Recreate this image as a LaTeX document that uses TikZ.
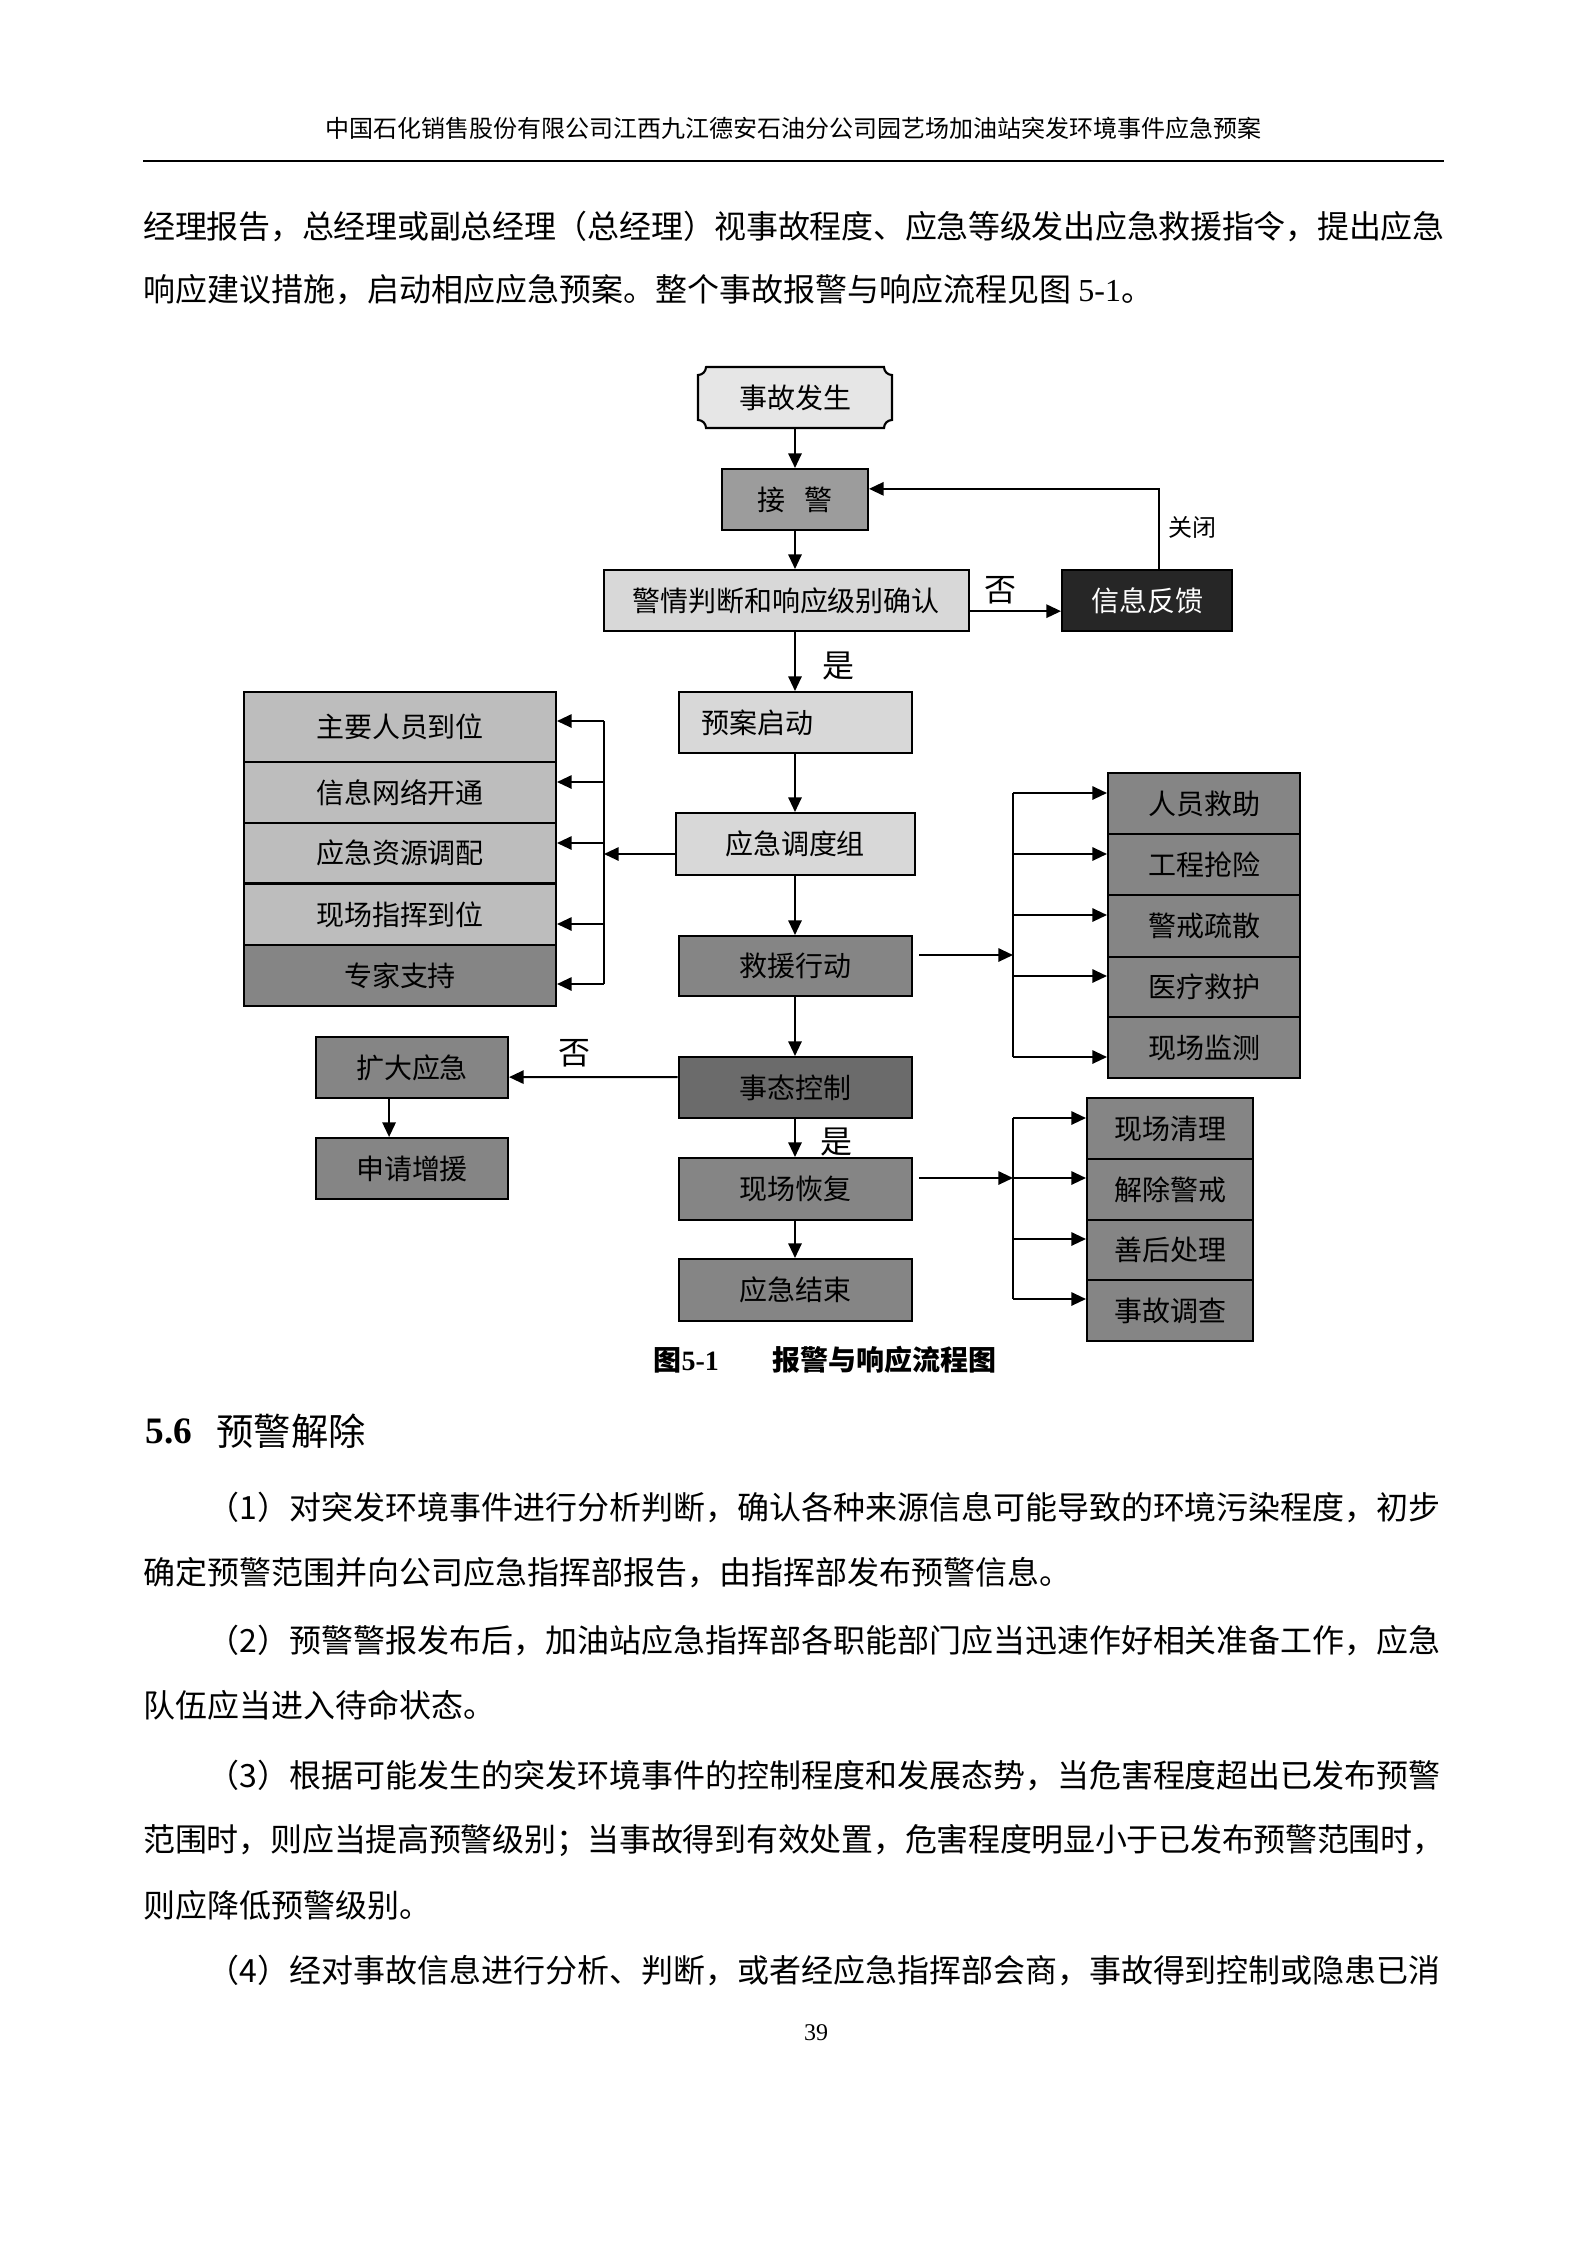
\documentclass[tikz,border=0pt]{standalone}
\usepackage{fontspec}
\setmainfont{Liberation Serif}
\newfontfamily\cjk{Noto Sans CJK SC}
\usetikzlibrary{arrows.meta,calc}
\XeTeXlinebreaklocale "zh"
\XeTeXlinebreakskip=0pt plus 1pt minus 0.5pt
\definecolor{fA}{HTML}{E6E6E6}
\definecolor{fJ}{HTML}{9C9C9C}
\definecolor{fL}{HTML}{D8D8D8}
\definecolor{fD}{HTML}{262626}
\definecolor{fM}{HTML}{858585}
\definecolor{fK}{HTML}{6B6B6B}
\definecolor{fS}{HTML}{BDBDBD}
\tikzset{
 box/.style={draw, line width=0.75pt, inner sep=0pt, font=\cjk\fontsize{10.5}{12}\selectfont, text=black},
 wh/.style 2 args={minimum width=#1*0.3751pt, minimum height=#2*0.3751pt},
 arr/.style={line width=0.75pt, -{Triangle[length=5.5pt,width=5pt]}},
 ln/.style={line width=0.75pt},
 lbl/.style={inner sep=0pt, font=\cjk\fontsize{12}{14}\selectfont},
 txt/.style={inner sep=0pt, anchor=west, font=\cjk\fontsize{12}{14}\selectfont},
 jline/.style={inner sep=0pt, anchor=west, text width=488pt, font=\cjk\fontsize{12}{14}\selectfont},
}
\begin{document}
\begin{tikzpicture}[x=0.3751pt,y=-0.3751pt]
\useasboundingbox[fill=white] (0,0) rectangle (1587,2245);
% header
\node[inner sep=0pt, font=\cjk\fontsize{9}{11}\selectfont] (hdr) at (793.5,128) {中国石化销售股份有限公司江西九江德安石油分公司园艺场加油站突发环境事件应急预案};
\draw[line width=0.6pt] (143,161) -- (1444,161);
% body top
\node[jline] (l1) at (143,227) {\noindent\parfillskip=0pt 经理报告，总经理或副总经理（总经理）视事故程度、应急等级发出应急救援指令，提出应急};
\node[txt] (l2) at (143,290) {响应建议措施，启动相应应急预案。整个事故报警与响应流程见图 {\rmfamily 5-1}。};
% diagram
\filldraw[line width=0.8pt, fill=fA] (706,367) -- (884,367) arc[start angle=180,end angle=270,radius=3pt] -- (892,420) arc[start angle=90,end angle=180,radius=3pt] -- (706,428) arc[start angle=0,end angle=90,radius=3pt] -- (698,375) arc[start angle=270,end angle=360,radius=3pt] -- cycle;
\node[box, draw=none, wh={194}{61}] (sg) at (795,397.5) {事故发生};
\node[box, fill=fJ, wh={146}{61}] (jj) at (795,499.5) {接\hspace{0.7em}警};
\node[box, fill=fL, wh={365}{61}] (jq) at (786,600.5) {警情判断和响应级别确认};
\node[box, fill=fD, text=white, wh={170}{61}] (fk) at (1147,600.5) {信息反馈};
\node[box, fill=fL, wh={233}{61}, text width=70pt, align=left, inner xsep=8.7pt] (ya) at (795,722.5) {预案启动};
\node[box, fill=fL, wh={239}{62}] (dd) at (795,844) {应急调度组};
\node[box, fill=fM, wh={233}{60}] (jy) at (795,966) {救援行动};
\node[box, fill=fK, wh={233}{61}] (tk) at (795,1087.5) {事态控制};
\node[box, fill=fM, wh={233}{62}] (hf) at (795,1189) {现场恢复};
\node[box, fill=fM, wh={233}{62}] (js) at (795,1290) {应急结束};
% left stack
\node[box, fill=fS, wh={312}{70}] (z1) at (400,727) {主要人员到位};
\node[box, fill=fS, wh={312}{61}] (z2) at (400,792.5) {信息网络开通};
\node[box, fill=fS, wh={312}{60}] (z3) at (400,853) {应急资源调配};
\node[box, fill=fS, wh={312}{61}] (z4) at (400,914.5) {现场指挥到位};
\node[box, fill=fM, wh={312}{61}] (z5) at (400,975.5) {专家支持};
% expand
\node[box, fill=fM, wh={192}{61}] (kd) at (412,1067.5) {扩大应急};
\node[box, fill=fM, wh={192}{61}] (sq) at (412,1168.5) {申请增援};
% right group 1
\node[box, fill=fM, wh={192}{61}] (r1) at (1204,803.5) {人员救助};
\node[box, fill=fM, wh={192}{61}] (r2) at (1204,864.5) {工程抢险};
\node[box, fill=fM, wh={192}{62}] (r3) at (1204,926) {警戒疏散};
\node[box, fill=fM, wh={192}{60}] (r4) at (1204,987) {医疗救护};
\node[box, fill=fM, wh={192}{61}] (r5) at (1204,1047.5) {现场监测};
% right group 2
\node[box, fill=fM, wh={166}{61}] (s1) at (1170,1128.5) {现场清理};
\node[box, fill=fM, wh={166}{61}] (s2) at (1170,1189.5) {解除警戒};
\node[box, fill=fM, wh={166}{60}] (s3) at (1170,1250) {善后处理};
\node[box, fill=fM, wh={166}{61}] (s4) at (1170,1310.5) {事故调查};
% central arrows
\draw[arr] (sg.south) -- (jj.north);
\draw[arr] (jj.south) -- (jj.south |- jq.north);
\draw[arr] (ya.north |- jq.south) -- (ya.north);
\draw[arr] (ya.south) -- (dd.north);
\draw[arr] (dd.south) -- (jy.north);
\draw[arr] (jy.south) -- (tk.north);
\draw[arr] (tk.south) -- (hf.north);
\draw[arr] (hf.south) -- (js.north);
\draw[arr] ([yshift=-4pt]jq.east) -- ([yshift=-4pt]fk.west);
\draw[arr] ([xshift=4.5pt]fk.north) |- ([yshift=4pt]jj.east);
\node[lbl] (no1) at (1000,590) {否};
\node[lbl] (yes1) at (838,666) {是};
\node[lbl, font=\cjk\fontsize{9}{11}\selectfont] (gb) at (1192,527) {关闭};
% left bracket
\coordinate (lb1) at (604,721);
\coordinate (lb2) at (604,782);
\coordinate (lb3) at (604,843);
\coordinate (lb4) at (604,924);
\coordinate (lb5) at (604,984);
\coordinate (lbm) at (604,854);
\draw[ln] (lb1) -- (lb5);
\draw[arr] (dd.west |- lbm) -- (lbm);
\draw[arr] (lb1) -- (lb1 -| z1.east);
\draw[arr] (lb2) -- (lb2 -| z2.east);
\draw[arr] (lb3) -- (lb3 -| z3.east);
\draw[arr] (lb4) -- (lb4 -| z4.east);
\draw[arr] (lb5) -- (lb5 -| z5.east);
% right bracket 1
\coordinate (rb1) at (1013,793);
\coordinate (rb2) at (1013,854);
\coordinate (rb3) at (1013,915);
\coordinate (rb4) at (1013,976);
\coordinate (rb5) at (1013,1057);
\coordinate (rbm) at (1013,955);
\draw[ln] (rb1) -- (rb5);
\draw[arr, shorten <=2.5pt] (jy.east |- rbm) -- (rbm);
\draw[arr] (rb1) -- (rb1 -| r1.west);
\draw[arr] (rb2) -- (rb2 -| r2.west);
\draw[arr] (rb3) -- (rb3 -| r3.west);
\draw[arr] (rb4) -- (rb4 -| r4.west);
\draw[arr] (rb5) -- (rb5 -| r5.west);
% right bracket 2
\coordinate (rc1) at (1013,1118);
\coordinate (rc2) at (1013,1178);
\coordinate (rc3) at (1013,1239);
\coordinate (rc4) at (1013,1299);
\draw[ln] (rc1) -- (rc4);
\draw[arr, shorten <=2.5pt] (hf.east |- rc2) -- (rc2);
\draw[arr] (rc1) -- (rc1 -| s1.west);
\draw[arr] (rc2) -- (rc2 -| s2.west);
\draw[arr] (rc3) -- (rc3 -| s3.west);
\draw[arr] (rc4) -- (rc4 -| s4.west);
% expand arrows
\draw[arr] ([yshift=3.9pt]tk.west) -- ([yshift=-3.6pt]kd.east);
\draw[arr] ([xshift=-8.6pt]kd.south) -- ([xshift=-8.6pt]sq.north);
\node[lbl] (no2) at (574,1053) {否};
\node[lbl] (yes2) at (836,1142) {是};
% caption
\node[inner sep=0pt, anchor=west, font=\cjk\bfseries\fontsize{10.5}{13}\selectfont] (cap1) at (653,1360) {图{\rmfamily\bfseries 5-1}};
\node[inner sep=0pt, anchor=west, font=\cjk\bfseries\fontsize{10.5}{13}\selectfont] (cap2) at (772,1360) {报警与响应流程图};
% section
\node[inner sep=0pt, anchor=west, font=\rmfamily\bfseries\fontsize{14}{16}\selectfont] (sec1) at (145,1431) {5.6};
\node[inner sep=0pt, anchor=west, font=\cjk\fontsize{14}{16}\selectfont] (sec2) at (216,1431) {预警解除};
% paragraphs
\node[jline] (p1a) at (143,1508) {\noindent\parfillskip=0pt\hspace*{24pt}（1）对突发环境事件进行分析判断，确认各种来源信息可能导致的环境污染程度，初步};
\node[txt] (p1b) at (143,1573) {确定预警范围并向公司应急指挥部报告，由指挥部发布预警信息。};
\node[jline] (p2a) at (143,1640) {\noindent\parfillskip=0pt\hspace*{24pt}（2）预警警报发布后，加油站应急指挥部各职能部门应当迅速作好相关准备工作，应急};
\node[txt] (p2b) at (143,1705) {队伍应当进入待命状态。};
\node[jline] (p3a) at (143,1775) {\noindent\parfillskip=0pt\hspace*{24pt}（3）根据可能发生的突发环境事件的控制程度和发展态势，当危害程度超出已发布预警};
\node[jline] (p3b) at (143,1840) {\noindent\parfillskip=0pt 范围时，则应当提高预警级别；当事故得到有效处置，危害程度明显小于已发布预警范围时，};
\node[txt] (p3c) at (143,1905) {则应降低预警级别。};
\node[jline] (p4a) at (143,1970) {\noindent\parfillskip=0pt\hspace*{24pt}（4）经对事故信息进行分析、判断，或者经应急指挥部会商，事故得到控制或隐患已消};
\node[inner sep=0pt, font=\rmfamily\fontsize{9}{11}\selectfont] (pg) at (816,2033) {39};
\end{tikzpicture}
\end{document}
